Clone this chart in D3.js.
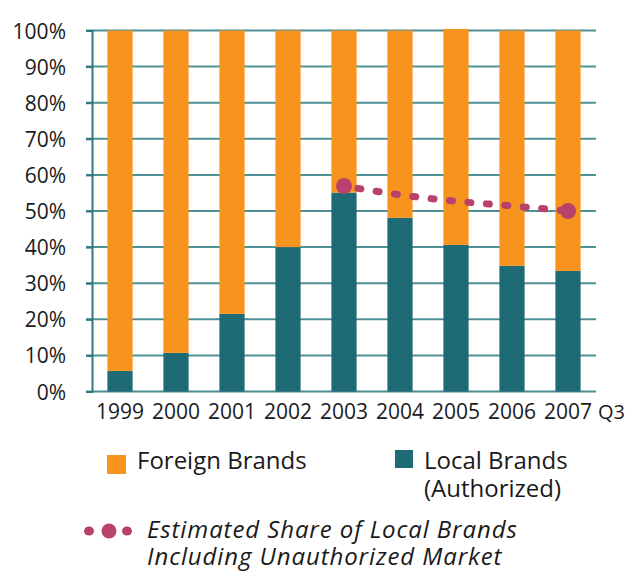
<!DOCTYPE html>
<html lang="en">
<head>
    <meta charset="UTF-8">
    <script src="https://d3js.org/d3.v7.min.js"></script>
    <style>
        body { margin: 0; font-family: "Open Sans", "Noto Sans", sans-serif; }
        .tick text { font-family: "Open Sans", "Noto Sans", sans-serif; font-size: 21px; fill: #1a1a1a; }
        .legend text { font-size: 24px; fill: #1a1a1a; }
    </style>
</head>
<body>
    <svg id="chart"></svg>
    <script>
        // data (percent)
        const years = ["1999", "2000", "2001", "2002", "2003", "2004", "2005", "2006", "2007"];
        const localBrands = [5.7, 10.7, 21.5, 40.0, 55.1, 48.1, 40.6, 34.8, 33.4];
        const foreignBrands = [94.3, 89.3, 78.5, 60.0, 44.9, 51.9, 59.8, 65.2, 66.6];
        const estYears = ["2003", "2004", "2005", "2006", "2007"];
        const estShare = [56.9, 54.5, 52.7, 51.4, 50.0];
        const yTicks = [0, 10, 20, 30, 40, 50, 60, 70, 80, 90, 100];

        const W = 630, H = 572;
        const plotL = 92, plotR = 596, plotT = 30.5, plotB = 391.5;

        const svg = d3.select("#chart").attr("width", W).attr("height", H);

        const x = d3.scaleBand().domain(years).range([plotL, plotR]).paddingInner(0.55).paddingOuter(0.275);
        const y = d3.scaleLinear().domain([0, 100]).range([plotB, plotT]);

        const orange = "#f7941d", teal = "#1f6b75", plum = "#b8426b";

        // grid lines
        svg.append("g")
            .selectAll("line")
            .data(yTicks)
            .join("line")
            .attr("x1", plotL - 6).attr("x2", plotR)
            .attr("y1", d => y(d)).attr("y2", d => y(d))
            .attr("stroke", "#4f8f96").attr("stroke-width", 2);

        // stacked bars
        const bars = svg.append("g");
        bars.selectAll(".local")
            .data(years)
            .join("rect")
            .attr("class", "local")
            .attr("x", d => x(d))
            .attr("width", x.bandwidth())
            .attr("y", (d, i) => y(localBrands[i]))
            .attr("height", (d, i) => y(0) - y(localBrands[i]))
            .attr("fill", teal);
        bars.selectAll(".foreign")
            .data(years)
            .join("rect")
            .attr("class", "foreign")
            .attr("x", d => x(d))
            .attr("width", x.bandwidth())
            .attr("y", (d, i) => y(localBrands[i] + foreignBrands[i]))
            .attr("height", (d, i) => y(localBrands[i]) - y(localBrands[i] + foreignBrands[i]))
            .attr("fill", orange);

        // y axis
        const yAxis = svg.append("g")
            .attr("transform", `translate(${plotL},0)`)
            .call(d3.axisLeft(y).tickValues(yTicks).tickFormat(d => d + "%").tickSize(6).tickPadding(20));
        yAxis.select(".domain").attr("stroke", "#2d7880").attr("stroke-width", 2);
        yAxis.selectAll(".tick line").attr("stroke", "#2d7880").attr("stroke-width", 2);
        yAxis.selectAll(".tick text").attr("dy", "0.36em");

        // x axis
        const xAxis = svg.append("g")
            .attr("transform", `translate(0,${plotB})`)
            .call(d3.axisBottom(x).tickSize(0).tickPadding(13));
        xAxis.select(".domain").remove();
        xAxis.selectAll(".tick text").attr("font-size", 20);
        svg.append("text")
            .attr("x", 598)
            .attr("y", 419)
            .attr("font-size", 20)
            .attr("fill", "#1a1a1a")
            .text("Q3");

        // estimated share dotted line
        const cx = d => x(d) + x.bandwidth() / 2;
        const line = d3.line().x((d, i) => cx(estYears[i])).y(d => y(d)).curve(d3.curveMonotoneX);
        svg.append("path")
            .datum(estShare)
            .attr("d", line)
            .attr("fill", "none")
            .attr("stroke", plum)
            .attr("stroke-width", 7)
            .attr("stroke-linecap", "round")
            .attr("stroke-dasharray", "3,15.5")
            .attr("stroke-dashoffset", -14);
        svg.selectAll(".endpt")
            .data([0, estShare.length - 1])
            .join("circle")
            .attr("class", "endpt")
            .attr("cx", i => cx(estYears[i]))
            .attr("cy", i => y(estShare[i]))
            .attr("r", 8)
            .attr("fill", plum);

        // legend
        const lg = svg.append("g").attr("class", "legend");
        lg.append("rect").attr("x", 107).attr("y", 455).attr("width", 19).attr("height", 19).attr("fill", orange);
        lg.append("text").attr("x", 137).attr("y", 469).text("Foreign Brands");
        lg.append("rect").attr("x", 395).attr("y", 450).attr("width", 18).attr("height", 18).attr("fill", teal);
        lg.append("text").attr("x", 424).attr("y", 469).text("Local Brands");
        lg.append("text").attr("x", 424).attr("y", 497).text("(Authorized)");

        lg.append("ellipse").attr("cx", 89).attr("cy", 531).attr("rx", 5).attr("ry", 4.5).attr("fill", plum);
        lg.append("circle").attr("cx", 109).attr("cy", 531).attr("r", 7.5).attr("fill", plum);
        lg.append("ellipse").attr("cx", 127).attr("cy", 531).attr("rx", 5).attr("ry", 4.5).attr("fill", plum);
        lg.append("text").attr("x", 147).attr("y", 538).attr("font-style", "italic").attr("font-size", 24)
            .attr("letter-spacing", 0.9).text("Estimated Share of Local Brands");
        lg.append("text").attr("x", 147).attr("y", 565).attr("font-style", "italic").attr("font-size", 24)
            .attr("letter-spacing", 0.9).text("Including Unauthorized Market");
    </script>
</body>
</html>
